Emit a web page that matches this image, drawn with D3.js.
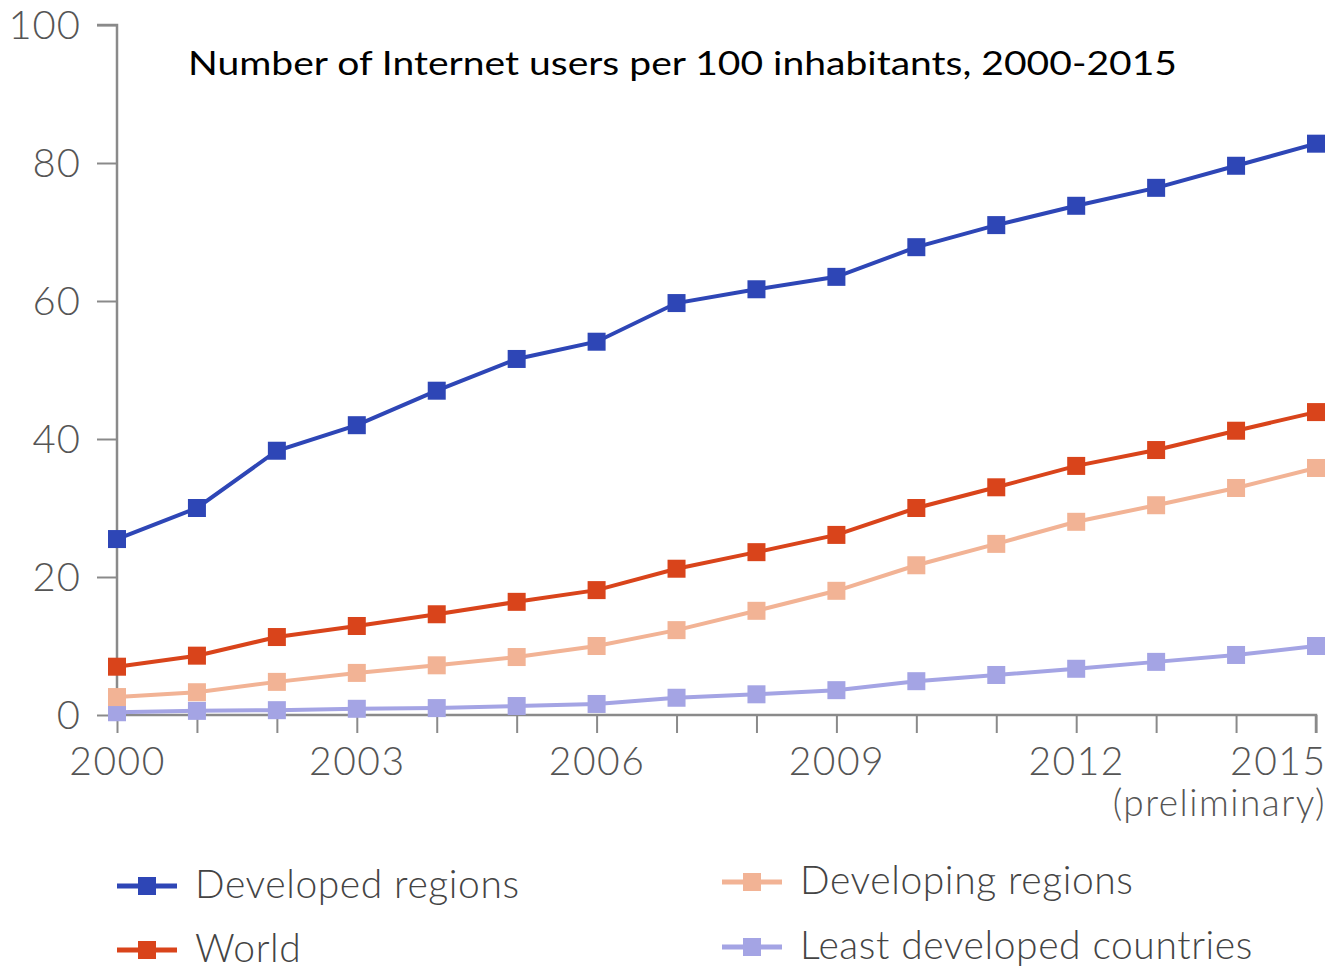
<!DOCTYPE html>
<html lang="en">
  <head>
    <meta charset="UTF-8" />
    <title>Internet users per 100 inhabitants</title>
    <script src="https://cdn.jsdelivr.net/npm/d3@7"></script>
    <style>
      body { margin: 0; background: #fff; }
      text { font-family: Lato, "Open Sans", sans-serif; }
    </style>
  </head>
  <body>
    <svg width="1332" height="970"></svg>
    <script>
      // data
      const years = [2000, 2001, 2002, 2003, 2004, 2005, 2006, 2007, 2008, 2009, 2010, 2011, 2012, 2013, 2014, 2015];
      const developed = [25.5, 30.0, 38.3, 42.0, 47.0, 51.6, 54.1, 59.7, 61.7, 63.5, 67.8, 71.0, 73.8, 76.4, 79.6, 82.8];
      const world = [7.0, 8.6, 11.3, 12.9, 14.6, 16.4, 18.1, 21.2, 23.6, 26.1, 30.0, 33.0, 36.1, 38.4, 41.2, 43.9];
      const developing = [2.6, 3.3, 4.8, 6.1, 7.2, 8.4, 10.0, 12.3, 15.1, 18.0, 21.7, 24.8, 28.0, 30.4, 32.9, 35.8];
      const leastDeveloped = [0.4, 0.6, 0.7, 0.9, 1.0, 1.3, 1.6, 2.5, 3.0, 3.6, 4.9, 5.8, 6.7, 7.7, 8.7, 10.0];
      const yTicks = [0, 20, 40, 60, 80, 100];
      const xLabels = [2000, 2003, 2006, 2009, 2012, 2015];

      const series = [
        { name: "Least developed countries", values: leastDeveloped, color: "#a4a4e4" },
        { name: "Developing regions", values: developing, color: "#f2b395" },
        { name: "World", values: world, color: "#d9441b" },
        { name: "Developed regions", values: developed, color: "#2e46b6" }
      ];

      const svg = d3.select("svg");
      const x = d3.scaleLinear().domain([2000, 2015]).range([117, 1316]);
      const y = d3.scaleLinear().domain([0, 100]).range([715, 25]);

      // y axis
      const yAxis = d3.axisLeft(y).tickValues(yTicks).tickSize(20).tickPadding(16);
      const gy = svg.append("g").attr("transform", "translate(117,0)").call(yAxis);
      gy.select(".domain").attr("d", "M-20,25H0V715");
      gy.selectAll("line").attr("stroke", "#8a8a8a").attr("stroke-width", 2);
      gy.select(".domain").attr("stroke", "#8a8a8a").attr("stroke-width", 2.5);
      gy.selectAll("text")
        .attr("font-size", 40).attr("fill", "#555").attr("font-weight", 300)
        .attr("letter-spacing", 1).attr("dy", "0.33em");

      // x axis
      const xAxis = d3.axisBottom(x).tickValues(years).tickSize(18)
        .tickFormat(d => xLabels.includes(d) ? d : "").tickPadding(14);
      const gx = svg.append("g").attr("transform", "translate(0,715)").call(xAxis);
      gx.select(".domain").attr("d", "M117,0H1316V18").attr("stroke", "#8a8a8a").attr("stroke-width", 2.5);
      gx.selectAll("line").attr("stroke", "#8a8a8a").attr("stroke-width", 2);
      gx.selectAll("text").attr("font-size", 39).attr("fill", "#555").attr("font-weight", 300)
        .attr("letter-spacing", 1.5).attr("y", 29).attr("dy", "0.8em");
      gx.selectAll(".tick").filter(d => d === 2015).select("text").attr("text-anchor", "end").attr("dx", 10);

      svg.append("text")
        .attr("x", 1326).attr("y", 816)
        .attr("text-anchor", "end")
        .attr("font-size", 37).attr("fill", "#555").attr("font-weight", 300)
        .attr("letter-spacing", 1.5)
        .text("(preliminary)");

      // lines and markers
      const line = d3.line().x((d, i) => x(years[i])).y(d => y(d));
      series.forEach(s => {
        svg.append("path")
          .attr("d", line(s.values))
          .attr("fill", "none")
          .attr("stroke", s.color)
          .attr("stroke-width", 4);
        svg.append("g").selectAll("rect")
          .data(s.values)
          .enter()
          .append("rect")
          .attr("x", (d, i) => x(years[i]) - 9)
          .attr("y", d => y(d) - 9)
          .attr("width", 18)
          .attr("height", 18)
          .attr("fill", s.color);
      });

      // title
      svg.append("text")
        .attr("x", 188).attr("y", 75)
        .attr("font-family", "'Open Sans', sans-serif")
        .attr("font-size", 33)
        .attr("fill", "#000")
        .attr("textLength", 989)
        .attr("lengthAdjust", "spacingAndGlyphs")
        .text("Number of Internet users per 100 inhabitants, 2000-2015");

      // legend
      const legend = [
        { name: "Developed regions", color: "#2e46b6", lx: 117, ly: 886 },
        { name: "World", color: "#d9441b", lx: 117, ly: 950 },
        { name: "Developing regions", color: "#f2b395", lx: 722, ly: 882 },
        { name: "Least developed countries", color: "#a4a4e4", lx: 722, ly: 947 }
      ];
      const lg = svg.append("g").selectAll("g").data(legend).enter().append("g")
        .attr("transform", d => `translate(${d.lx},${d.ly})`);
      lg.append("line").attr("x1", 0).attr("x2", 60).attr("y1", 0).attr("y2", 0)
        .attr("stroke", d => d.color).attr("stroke-width", 5);
      lg.append("rect").attr("x", 21).attr("y", -9).attr("width", 18).attr("height", 18)
        .attr("fill", d => d.color);
      lg.append("text").attr("x", 78).attr("y", 12)
        .attr("font-size", 39).attr("fill", "#444").attr("font-weight", 300)
        .attr("letter-spacing", 0.6)
        .text(d => d.name);
    </script>
  </body>
</html>
